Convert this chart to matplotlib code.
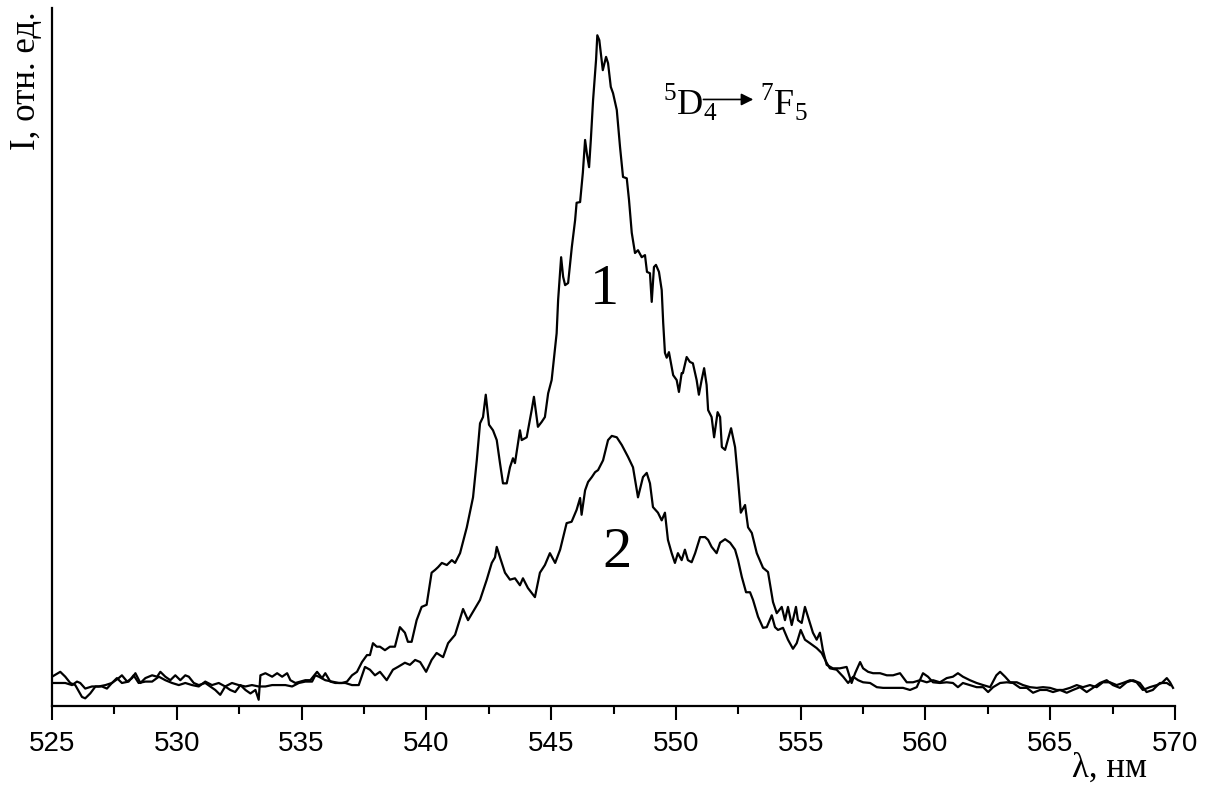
import matplotlib.pyplot as plt
from matplotlib.ticker import MultipleLocator

# Спектр люминесценции, переход 5D4 -> 7F5
wl1 = [525.00, 525.33, 525.53, 525.73, 525.93, 526.20, 526.33, 526.53, 526.74, 527.00,
       527.20, 527.40, 527.67, 527.80, 528.01, 528.21, 528.34, 528.54, 528.74, 529.01,
       529.21, 529.34, 529.54, 529.74, 529.94, 530.14, 530.34, 530.48, 530.68, 530.88,
       531.14, 531.34, 531.54, 531.74, 531.94, 532.14, 532.34, 532.55, 532.75, 532.95,
       533.15, 533.28, 533.35, 533.55, 533.82, 534.02, 534.22, 534.42, 534.55, 534.75,
       534.95, 535.15, 535.35, 535.62, 535.82, 535.95, 536.15, 536.35, 536.62, 536.82,
       537.02, 537.22, 537.42, 537.62, 537.74, 537.86, 538.01, 538.14, 538.34, 538.54,
       538.74, 538.94, 539.14, 539.26, 539.41, 539.61, 539.81, 540.01, 540.21, 540.35,
       540.47, 540.62, 540.82, 541.02, 541.15, 541.35, 541.62, 541.87, 542.02, 542.15,
       542.27, 542.38, 542.51, 542.67, 542.82, 542.95, 543.07, 543.22, 543.35, 543.47,
       543.55, 543.75, 543.82, 544.02, 544.22, 544.31, 544.47, 544.62, 544.75, 544.88,
       545.02, 545.22, 545.28, 545.40, 545.48, 545.56, 545.68, 545.83, 545.96, 546.02,
       546.16, 546.27, 546.36, 546.43, 546.52, 546.59, 546.68, 546.80, 546.85, 546.93,
       547.07, 547.20, 547.28, 547.39, 547.48, 547.63, 547.76, 547.88, 548.03, 548.12,
       548.23, 548.36, 548.48, 548.63, 548.76, 548.84, 548.96, 549.03, 549.12, 549.20,
       549.32, 549.43, 549.49, 549.56, 549.63, 549.72, 549.83, 549.89, 550.03, 550.12,
       550.23, 550.28, 550.43, 550.56, 550.68, 550.83, 550.92, 551.03, 551.13, 551.23,
       551.29, 551.43, 551.53, 551.67, 551.77, 551.84, 551.97, 552.21, 552.37, 552.49,
       552.60, 552.77, 552.89, 553.04, 553.24, 553.49, 553.69, 553.89, 554.04, 554.24,
       554.37, 554.49, 554.64, 554.81, 554.89, 555.04, 555.17, 555.29, 555.49, 555.64,
       555.77, 555.89, 556.04, 556.29, 556.57, 556.84, 557.04, 557.18, 557.38, 557.50,
       557.70, 557.90, 558.18, 558.45, 558.70, 558.98, 559.25, 559.50, 559.78, 560.05,
       560.30, 560.58, 560.85, 561.10, 561.30, 561.50, 561.78, 562.05, 562.31, 562.59,
       562.84, 562.99, 563.19, 563.39, 563.66, 563.91, 564.19, 564.46, 564.71, 564.99,
       565.26, 565.51, 565.79, 566.06, 566.31, 566.59, 566.86, 567.11, 567.39, 567.66,
       567.91, 568.20, 568.46, 568.71, 568.99, 569.27, 569.47, 569.67, 569.80, 569.92]
int1 = [4.2, 4.9, 4.2, 3.3, 3.0, 1.3, 1.1, 1.8, 2.8, 2.8,
        2.5, 3.3, 4.0, 4.4, 3.5, 4.0, 4.7, 3.3, 4.0, 4.4,
        4.2, 4.9, 4.2, 3.7, 4.4, 3.7, 4.4, 4.2, 3.3, 3.0,
        3.3, 2.8, 2.3, 1.6, 2.8, 2.3, 2.0, 3.0, 2.3, 1.8,
        2.3, 0.9, 4.4, 4.7, 4.2, 4.7, 4.2, 4.7, 3.7, 3.3,
        3.5, 3.7, 3.7, 4.9, 4.0, 4.7, 3.5, 3.3, 3.3, 3.5,
        4.4, 4.9, 6.3, 7.3, 7.3, 9.0, 8.5, 8.5, 8.0, 8.5,
        8.5, 11.3, 10.5, 9.2, 9.2, 12.3, 14.2, 14.5, 19.1, 19.5,
        19.9, 20.5, 20.2, 20.9, 20.5, 21.9, 25.6, 29.9, 35.2, 40.5,
        41.4, 44.6, 40.3, 39.5, 38.1, 34.8, 31.9, 31.9, 34.2, 35.5,
        34.8, 39.5, 38.1, 38.5, 42.4, 44.3, 40.0, 40.7, 41.4, 44.8,
        46.7, 53.4, 58.2, 64.3, 61.5, 60.3, 60.6, 65.8, 69.6, 72.1,
        72.2, 76.4, 81.1, 79.2, 77.2, 81.1, 86.8, 92.6, 96.1, 95.4,
        91.1, 93.0, 92.1, 88.7, 87.8, 85.4, 80.1, 75.8, 75.6, 72.5,
        67.8, 64.9, 65.3, 64.3, 64.6, 62.2, 62.0, 57.9, 62.9, 63.2,
        62.2, 59.6, 54.9, 50.6, 49.9, 50.7, 48.6, 47.4, 46.7, 45.0,
        47.7, 47.7, 50.0, 49.3, 49.1, 46.7, 44.6, 46.7, 48.4, 46.0,
        42.4, 41.4, 38.5, 42.1, 41.4, 37.1, 36.7, 39.8, 37.1, 32.4,
        27.7, 28.8, 25.6, 24.8, 21.9, 19.8, 19.2, 14.9, 13.3, 14.2,
        12.3, 14.2, 11.6, 14.2, 12.3, 11.9, 14.2, 12.8, 10.5, 9.5,
        10.5, 8.0, 5.9, 5.4, 5.4, 5.6, 3.3, 4.7, 6.3, 5.4,
        4.9, 4.7, 4.7, 4.4, 4.4, 4.7, 3.4, 3.4, 3.7, 3.4,
        3.7, 3.4, 4.0, 4.2, 4.7, 4.2, 3.7, 3.3, 3.0, 2.7,
        4.4, 4.9, 4.2, 3.4, 3.4, 3.0, 2.7, 2.6, 2.7, 2.6,
        2.3, 2.3, 2.6, 3.0, 2.7, 3.0, 2.7, 3.4, 3.4, 3.0,
        3.3, 3.7, 3.4, 2.3, 2.7, 3.0, 3.3, 4.0, 3.4, 2.6]

wl2 = [525.00, 525.27, 525.53, 525.80, 526.00, 526.13, 526.33, 526.60, 526.87, 527.14,
       527.40, 527.60, 527.80, 528.07, 528.27, 528.47, 528.74, 529.01, 529.28, 529.54,
       529.81, 530.08, 530.34, 530.61, 530.88, 531.14, 531.41, 531.68, 531.94, 532.21,
       532.48, 532.75, 533.01, 533.28, 533.55, 533.82, 534.08, 534.35, 534.62, 534.89,
       535.15, 535.42, 535.55, 535.69, 535.95, 536.22, 536.49, 536.75, 537.02, 537.29,
       537.54, 537.74, 537.94, 538.14, 538.41, 538.66, 538.86, 539.14, 539.34, 539.55,
       539.75, 539.99, 540.21, 540.41, 540.67, 540.87, 541.15, 541.47, 541.67, 541.87,
       542.15, 542.42, 542.62, 542.75, 542.82, 542.95, 543.15, 543.35, 543.55, 543.75,
       543.87, 544.07, 544.35, 544.55, 544.75, 544.95, 545.16, 545.36, 545.62, 545.82,
       546.02, 546.16, 546.22, 546.36, 546.48, 546.63, 546.76, 546.88, 547.08, 547.28,
       547.43, 547.63, 547.83, 548.08, 548.28, 548.48, 548.68, 548.83, 548.96, 549.08,
       549.28, 549.43, 549.56, 549.68, 549.83, 549.96, 550.08, 550.23, 550.36, 550.48,
       550.63, 550.77, 550.97, 551.17, 551.29, 551.43, 551.63, 551.77, 551.97, 552.17,
       552.37, 552.49, 552.64, 552.81, 552.97, 553.09, 553.29, 553.49, 553.64, 553.84,
       553.97, 554.09, 554.29, 554.49, 554.69, 554.84, 555.00, 555.17, 555.37, 555.64,
       555.84, 556.04, 556.17, 556.44, 556.70, 556.90, 557.10, 557.30, 557.50, 557.78,
       558.05, 558.30, 558.58, 558.85, 559.10, 559.38, 559.65, 559.90, 560.10, 560.30,
       560.58, 560.85, 561.10, 561.30, 561.50, 561.78, 562.05, 562.31, 562.51, 562.71,
       562.99, 563.26, 563.51, 563.79, 564.06, 564.31, 564.59, 564.86, 565.11, 565.39,
       565.66, 565.91, 566.19, 566.46, 566.71, 566.99, 567.26, 567.51, 567.79, 568.06,
       568.32, 568.59, 568.86, 569.11, 569.39, 569.67, 569.80]
int2 = [3.3, 3.3, 3.3, 3.0, 3.5, 3.3, 2.5, 2.8, 2.8, 3.0,
        3.3, 4.0, 3.3, 3.5, 4.4, 3.3, 3.5, 3.5, 4.2, 3.7,
        3.3, 3.0, 3.3, 3.0, 2.8, 3.5, 3.0, 3.3, 2.8, 3.3,
        3.0, 2.8, 3.0, 2.8, 2.8, 3.0, 3.0, 3.0, 2.8, 3.3,
        3.5, 3.5, 4.4, 4.2, 3.7, 3.5, 3.3, 3.3, 3.0, 3.0,
        5.6, 5.2, 4.4, 4.9, 3.7, 5.2, 5.6, 6.2, 5.9, 6.6,
        6.3, 4.9, 6.6, 7.6, 7.0, 9.0, 10.2, 13.9, 12.3, 13.5,
        15.2, 18.1, 20.5, 21.3, 22.8, 21.3, 19.1, 18.1, 18.3, 17.3,
        18.3, 16.9, 15.6, 19.1, 20.2, 21.9, 20.5, 22.4, 26.2, 26.4,
        28.1, 29.8, 27.4, 30.9, 32.1, 32.8, 33.5, 33.8, 35.2, 38.1,
        38.7, 38.5, 37.4, 35.7, 34.2, 29.9, 32.8, 33.4, 31.9, 28.5,
        27.7, 26.6, 27.7, 23.8, 21.9, 20.5, 21.9, 20.9, 22.4, 20.9,
        20.6, 21.9, 24.2, 24.2, 23.8, 22.8, 21.9, 23.4, 23.9, 23.4,
        22.4, 20.9, 18.5, 16.3, 16.3, 15.2, 12.8, 11.2, 11.3, 13.0,
        11.3, 10.9, 11.2, 9.5, 8.2, 9.0, 10.9, 9.5, 9.0, 8.3,
        7.6, 6.2, 5.4, 5.2, 4.2, 3.3, 4.2, 3.7, 3.4, 3.3,
        2.7, 2.6, 2.6, 2.6, 2.6, 2.3, 2.7, 4.7, 4.2, 3.4,
        3.3, 3.4, 3.3, 2.7, 3.3, 3.0, 2.7, 2.7, 2.0, 2.7,
        3.3, 3.4, 3.3, 2.6, 2.6, 1.9, 2.3, 2.3, 2.0, 2.3,
        1.9, 2.3, 2.7, 2.0, 2.6, 3.3, 3.7, 3.0, 2.6, 3.4,
        3.7, 3.3, 2.0, 2.3, 3.3, 3.3, 3.0]

serif = 'Liberation Serif'
plt.rcParams['font.family'] = 'Liberation Sans'
plt.rcParams['mathtext.fontset'] = 'custom'
plt.rcParams['mathtext.rm'] = serif

fig = plt.figure(figsize=(12.13, 7.87), dpi=100)
ax = fig.add_axes([0.0429, 0.1029, 0.9258, 0.8869])

ax.plot(wl1, int1, color='black', lw=1.6)
ax.plot(wl2, int2, color='black', lw=1.6)

ax.set_xlim(525, 570)
ax.set_ylim(0, 100)
ax.xaxis.set_major_locator(MultipleLocator(5))
ax.xaxis.set_minor_locator(MultipleLocator(2.5))
ax.tick_params(axis='x', which='major', direction='out', length=10, width=1.5, labelsize=20, pad=8)
ax.tick_params(axis='x', which='minor', direction='out', length=5.5, width=1.5)
ax.set_yticks([])
for s in ['top', 'right']:
    ax.spines[s].set_visible(False)
for s in ['left', 'bottom']:
    ax.spines[s].set_linewidth(1.6)

# подписи кривых
ax.text(547.12, 59.6, '1', fontsize=42, family=serif, ha='center', va='center')
ax.text(547.64, 21.9, '2', fontsize=42, family=serif, ha='center', va='center')

# переход
ax.text(549.5, 84.7, r'$^{5}\mathrm{D}_{4}$', fontsize=26, ha='left', va='baseline')
ax.annotate('', xy=(553.1, 86.9), xytext=(551.1, 86.9),
            arrowprops=dict(arrowstyle='-|>', color='black', lw=1.2, mutation_scale=18,
                            shrinkA=0, shrinkB=0))
ax.text(553.35, 84.7, r'$^{7}\mathrm{F}_{5}$', fontsize=26, ha='left', va='baseline')

fig.text(0.022, 0.985, 'I, отн. ед.', fontsize=25, family=serif, rotation=90, ha='center', va='top')
fig.text(0.915, 0.024, 'λ, нм', fontsize=25, family=serif, ha='center', va='center')

fig.savefig('out.png', dpi=100)
